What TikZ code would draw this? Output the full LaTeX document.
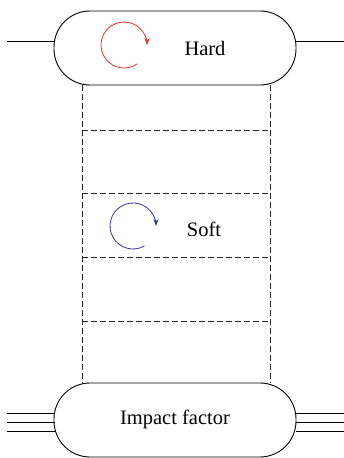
\documentclass[tikz,border=0pt]{standalone}
\usepackage{fontspec}
\setmainfont{Liberation Serif}
\usetikzlibrary{arrows.meta}
\definecolor{redarc}{RGB}{228,52,40}
\definecolor{bluearc}{RGB}{52,52,160}
\begin{document}
\begin{tikzpicture}[x=1pt,y=-1pt,
  stadium/.style={draw, line width=0.9pt, rounded corners=36pt, minimum width=242pt, minimum height=74pt, inner sep=0pt, font=\fontsize{20.5}{24}\selectfont},
  dashline/.style={draw, line width=0.8pt, dash pattern=on 5.5pt off 3.5pt, black!85},
  solidline/.style={draw, line width=0.9pt},
  spin/.style={line width=0.8pt, -{Stealth[length=7pt,width=5pt]}},
  lbl/.style={font=\fontsize{20.5}{24}\selectfont, inner sep=0pt}]
\useasboundingbox (0,0) rectangle (344,458);
\node[stadium] (hard) at (175,48) {};
\node[stadium] (imp) at (175,420) {};
\node[lbl] (hardt) at (205,48) {Hard};
\node[lbl] (impt) at (175,419) {Impact factor};
\node[lbl] (softt) at (204,229) {Soft};
% external lines
\coordinate (l1) at (7,41);
\coordinate (r1) at (344,41);
\draw[solidline] (l1) -- (hard.west |- l1);
\draw[solidline] (hard.east |- r1) -- (r1);
\foreach \yy in {413,422,431}{
  \coordinate (la) at (7,\yy);
  \coordinate (ra) at (344,\yy);
  \draw[line width=0.9pt] (la) -- ++(48,0);
  \draw[line width=0.9pt] (ra) -- ++(-48,0);
}
% dashed box
\coordinate (tl) at (82,85);
\coordinate (tr) at (270,85);
\coordinate (bl) at (82,383);
\coordinate (br) at (270,383);
\draw[dashline] (tl) -- (bl);
\draw[dashline] (tr) -- (br);
\foreach \yy in {130,193,257,321}{
  \draw[dashline] (82,\yy) -- (270,\yy);
}
% spin arrows
\draw[spin, redarc] (124,45) ++(55:23) arc[start angle=55, end angle=360, radius=23];
\draw[spin, bluearc] (133,226) ++(60:23) arc[start angle=60, end angle=360, radius=23];
\end{tikzpicture}
\end{document}
